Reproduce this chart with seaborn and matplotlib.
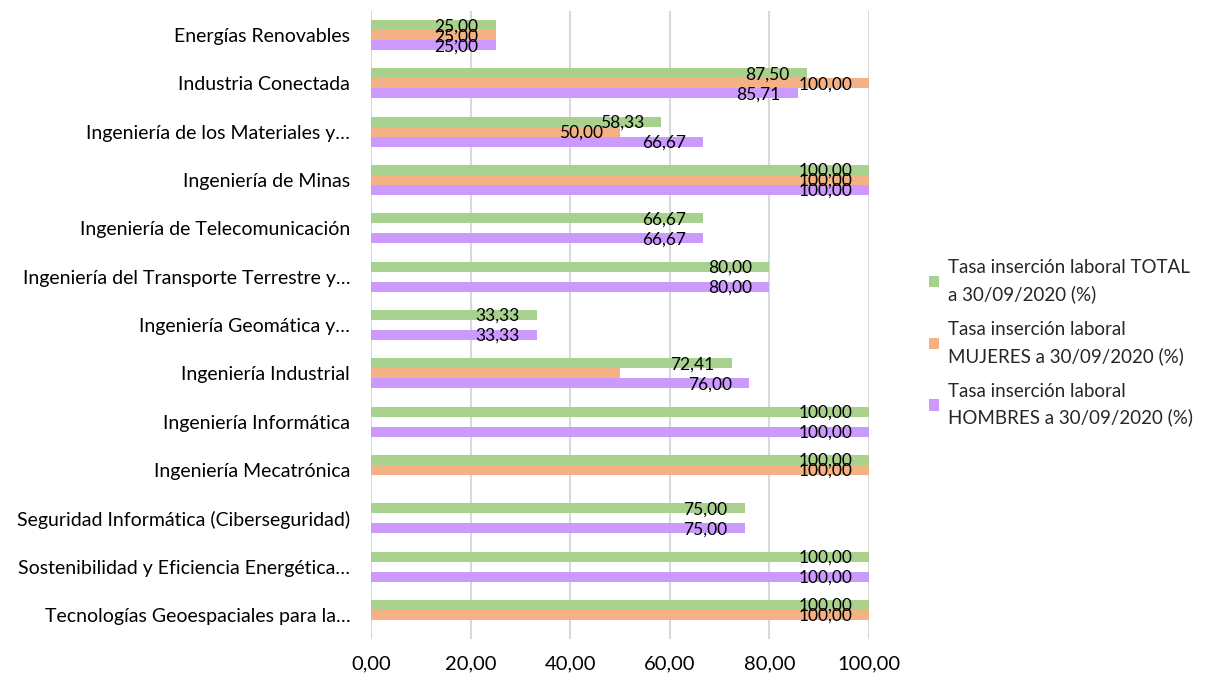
import numpy as np
import pandas as pd
import matplotlib
matplotlib.use("Agg")
import matplotlib.pyplot as plt
import seaborn as sns
from matplotlib.ticker import FuncFormatter
from matplotlib.patches import Patch

titulaciones = [
    "Energías Renovables",
    "Industria Conectada",
    "Ingeniería de los Materiales y…",
    "Ingeniería de Minas",
    "Ingeniería de Telecomunicación",
    "Ingeniería del Transporte Terrestre y…",
    "Ingeniería Geomática y…",
    "Ingeniería Industrial",
    "Ingeniería Informática",
    "Ingeniería Mecatrónica",
    "Seguridad Informática (Ciberseguridad)",
    "Sostenibilidad y Eficiencia Energética…",
    "Tecnologías Geoespaciales para la…",
]
tasa_total = [25.00, 87.50, 58.33, 100.00, 66.67, 80.00, 33.33, 72.41, 100.00, 100.00, 75.00, 100.00, 100.00]
tasa_mujeres = [25.00, 100.00, 50.00, 100.00, np.nan, np.nan, np.nan, 50.00, np.nan, 100.00, np.nan, np.nan, 100.00]
tasa_hombres = [25.00, 85.71, 66.67, 100.00, 66.67, 80.00, 33.33, 76.00, 100.00, np.nan, 75.00, 100.00, np.nan]
series = [
    "Tasa inserción laboral TOTAL\na 30/09/2020 (%)",
    "Tasa inserción laboral\nMUJERES a 30/09/2020 (%)",
    "Tasa inserción laboral\nHOMBRES a 30/09/2020 (%)",
]
colores = ["#A9D18E", "#F4B183", "#CC99FF"]
# etiqueta que no aparece en el original
sin_etiqueta = [(1, "Ingeniería Industrial")]

df = pd.DataFrame({
    "titulacion": titulaciones * 3,
    "serie": np.repeat(series, len(titulaciones)),
    "valor": tasa_total + tasa_mujeres + tasa_hombres,
})

sns.set_style("white")
plt.rcParams["font.family"] = ["Lato", "DejaVu Sans"]

fig = plt.figure(figsize=(12.05, 6.83), dpi=100)
ax = fig.add_axes([371 / 1205, 1 - 639 / 683, 498 / 1205, 628 / 683])

sns.barplot(data=df, x="valor", y="titulacion", hue="serie", order=titulaciones,
            hue_order=series, palette=colores, orient="h", width=0.62,
            saturation=1, errorbar=None, legend=False, linewidth=0, ax=ax)

ax.set_xlim(0, 100)
ax.set_ylim(len(titulaciones) - 0.5, -0.5)
ax.set_xticks(range(0, 101, 20))
ax.xaxis.set_major_formatter(FuncFormatter(lambda v, p: f"{v:.2f}".replace(".", ",")))
ax.grid(axis="x", color="#D9D9D9", linewidth=1.5)
ax.set_axisbelow(True)
for s in ax.spines.values():
    s.set_visible(False)
ax.tick_params(axis="x", length=0, labelsize=14.5, pad=12, colors="#000000")
ax.tick_params(axis="y", length=0, labelsize=14, pad=15, colors="#000000")
ax.set_xlabel("")
ax.set_ylabel("")

for k, cont in enumerate(ax.containers):
    for bar in cont:
        w = bar.get_width()
        if not np.isfinite(w) or w == 0:
            continue
        yc = bar.get_y() + bar.get_height() / 2
        idx = int(round(yc))
        if (k, titulaciones[idx]) in sin_etiqueta:
            continue
        ax.annotate(f"{w:.2f}".replace(".", ","), (w, yc), xytext=(-17, -1),
                    textcoords="offset pixels", ha="right", va="center",
                    fontsize=12.5, color="#000000")

handles = [Patch(facecolor=c, edgecolor="none") for c in colores]
leg = fig.legend(handles, series, loc="center left", bbox_to_anchor=(929 / 1205, 1 - 343 / 683),
                 frameon=False, fontsize=13.5, handlelength=0.55, handleheight=0.55,
                 handletextpad=0.45, labelspacing=0.95, borderpad=0, borderaxespad=0)
for t in leg.get_texts():
    t.set_linespacing(1.6)

fig.savefig("out.png", dpi=100)
